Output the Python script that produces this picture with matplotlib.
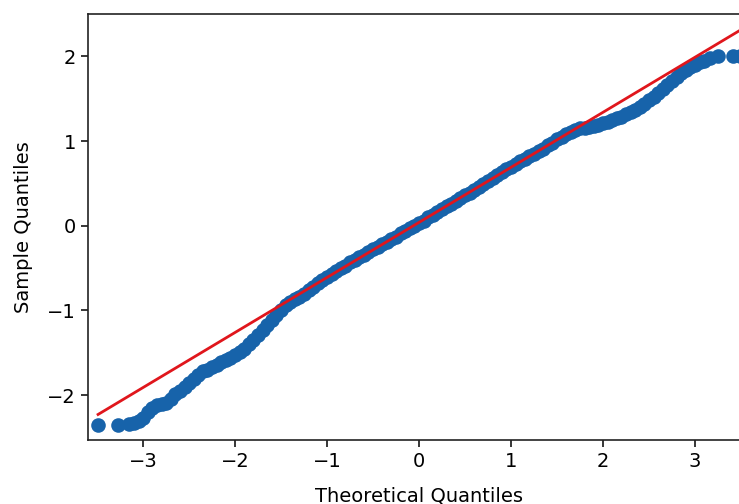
import numpy as np
import matplotlib
matplotlib.use('Agg')
import matplotlib.pyplot as plt

# 理論分位數
theoretical = [
    -3.49, -3.27, -3.15, -3.10, -3.05, -3.00, -2.95, -2.90, -2.85, -2.80,
    -2.75, -2.70, -2.65, -2.60, -2.55, -2.50, -2.45, -2.40, -2.35, -2.30,
    -2.25, -2.20, -2.15, -2.10, -2.05, -2.00, -1.95, -1.90, -1.85, -1.80,
    -1.75, -1.70, -1.65, -1.60, -1.55, -1.50, -1.45, -1.40, -1.35, -1.30,
    -1.25, -1.20, -1.15, -1.10, -1.05, -1.00, -0.95, -0.90, -0.85, -0.80,
    -0.75, -0.70, -0.65, -0.60, -0.55, -0.50, -0.45, -0.40, -0.35, -0.30,
    -0.25, -0.20, -0.15, -0.10, -0.05, 0.00, 0.05, 0.10, 0.15, 0.20,
    0.25, 0.30, 0.35, 0.40, 0.45, 0.50, 0.55, 0.60, 0.65, 0.70,
    0.75, 0.80, 0.85, 0.90, 0.95, 1.00, 1.05, 1.10, 1.15, 1.20,
    1.25, 1.30, 1.35, 1.40, 1.45, 1.50, 1.55, 1.60, 1.65, 1.70,
    1.75, 1.80, 1.85, 1.90, 1.95, 2.00, 2.05, 2.10, 2.15, 2.20,
    2.25, 2.30, 2.35, 2.40, 2.45, 2.50, 2.55, 2.60, 2.65, 2.70,
    2.75, 2.80, 2.85, 2.90, 2.95, 3.00, 3.05, 3.10, 3.16, 3.25,
    3.41, 3.49,
]

# 樣本分位數
sample = [
    -2.35, -2.35, -2.34, -2.33, -2.31, -2.27, -2.20, -2.15, -2.12, -2.11,
    -2.09, -2.04, -1.99, -1.95, -1.91, -1.86, -1.81, -1.76, -1.72, -1.70,
    -1.67, -1.64, -1.61, -1.59, -1.56, -1.53, -1.49, -1.45, -1.40, -1.35,
    -1.29, -1.23, -1.17, -1.11, -1.05, -0.99, -0.94, -0.90, -0.87, -0.84,
    -0.80, -0.76, -0.72, -0.68, -0.64, -0.60, -0.57, -0.53, -0.50, -0.47,
    -0.43, -0.40, -0.37, -0.34, -0.31, -0.28, -0.25, -0.22, -0.19, -0.16,
    -0.13, -0.09, -0.06, -0.03, 0.00, 0.03, 0.06, 0.10, 0.13, 0.16,
    0.20, 0.23, 0.26, 0.29, 0.33, 0.36, 0.39, 0.42, 0.46, 0.49,
    0.53, 0.56, 0.60, 0.63, 0.67, 0.70, 0.73, 0.76, 0.79, 0.82,
    0.85, 0.88, 0.91, 0.95, 0.98, 1.02, 1.05, 1.08, 1.11, 1.13,
    1.15, 1.16, 1.17, 1.18, 1.19, 1.21, 1.23, 1.25, 1.27, 1.29,
    1.32, 1.34, 1.37, 1.40, 1.44, 1.48, 1.52, 1.57, 1.62, 1.66,
    1.71, 1.76, 1.80, 1.84, 1.87, 1.90, 1.93, 1.95, 1.98, 2.00,
    2.00, 2.00,
]

# 參考線 y = loc + scale * x
line_loc = 0.04
line_scale = 0.65

x_ticks = [-3, -2, -1, 0, 1, 2, 3]
y_ticks = [-2, -1, 0, 1, 2]


def main():
    x = np.array(theoretical)
    y = np.array(sample)

    fig = plt.figure(figsize=(7.39, 5.04), dpi=100)
    ax = fig.add_axes([0.119, 0.127, 0.896, 0.845])

    ax.plot(x, y, 'o', color='#1763aa', markersize=10.5, markeredgewidth=0)
    xs = np.array([x.min(), x.max()])
    ax.plot(xs, line_loc + line_scale * xs, color='#e0161c', linewidth=2)

    ax.set_xlim(-3.6, 3.6)
    ax.set_ylim(-2.53, 2.50)
    ax.set_xticks(x_ticks)
    ax.set_yticks(y_ticks)
    ax.set_xticklabels(['\u2212' + str(-t) if t < 0 else str(t) for t in x_ticks])
    ax.set_yticklabels(['\u2212' + str(-t) if t < 0 else str(t) for t in y_ticks])
    ax.tick_params(labelsize=14, length=5, width=1.1)
    for s in ax.spines.values():
        s.set_linewidth(1.2)
        s.set_color('#222222')

    ax.set_xlabel('Theoretical Quantiles', fontsize=14, labelpad=11)
    ax.set_ylabel('Sample Quantiles', fontsize=14, labelpad=10)

    fig.savefig('out.png', dpi=100)


if __name__ == '__main__':
    main()
